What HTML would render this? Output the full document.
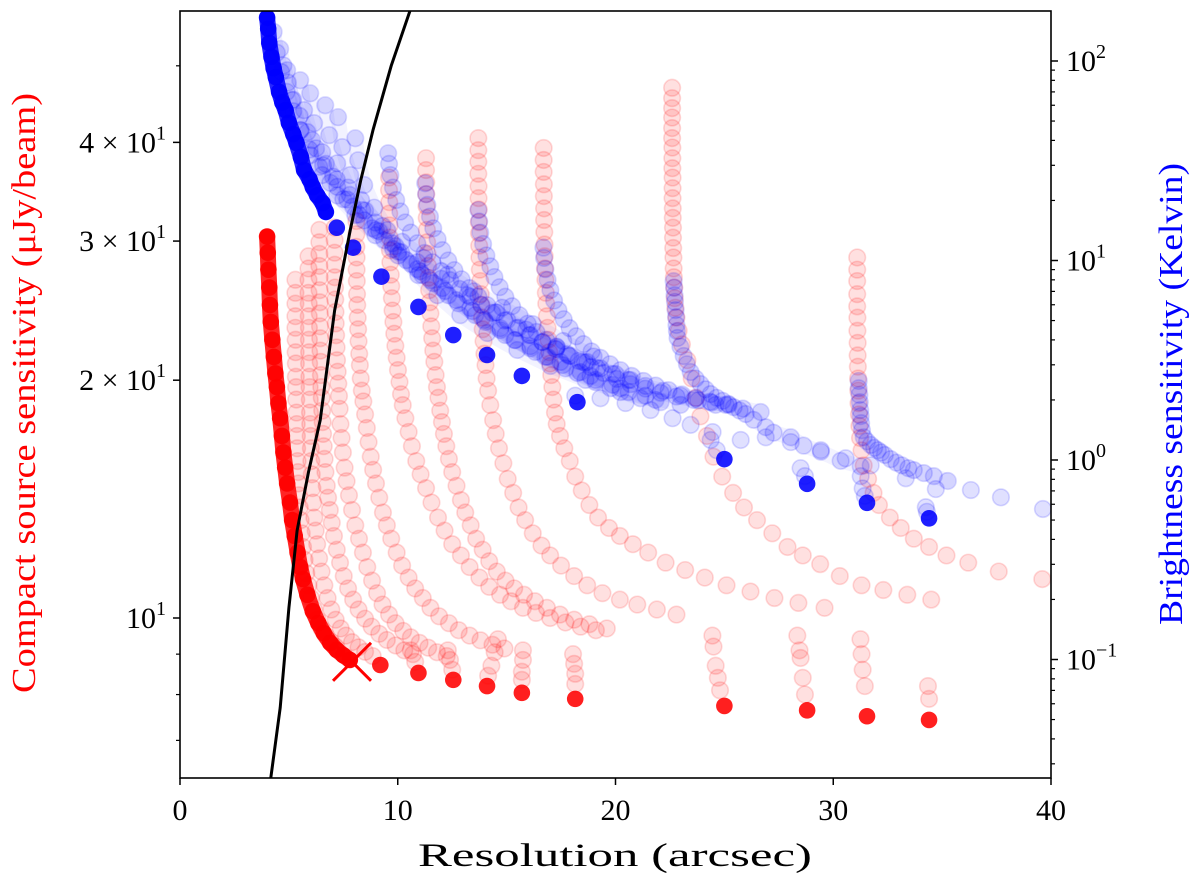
<!DOCTYPE html>
<html><head><meta charset="utf-8"><style>
html,body{margin:0;padding:0;background:#fff;}
svg{display:block;font-family:"Liberation Serif","DejaVu Serif",serif;}
</style></head><body>
<svg id="chart" width="1200" height="881" viewBox="0 0 1200 881" xmlns="http://www.w3.org/2000/svg">
<defs><clipPath id="plotclip"><rect x="180" y="11" width="871" height="767"/></clipPath></defs>
<g id="marks" clip-path="url(#plotclip)"></g>
<g id="axes"></g>
</svg>
<script>
// ---- data ----
const xTicks = [0, 10, 20, 30, 40];
const leftMajor = [10, 20, 30, 40];
const leftMajorLabels = [["10", "1"], ["2 × 10", "1"], ["3 × 10", "1"], ["4 × 10", "1"]];
const leftMinor = [7, 8, 9, 50];
const rightMajor = [0.1, 1, 10, 100];
const rightMajorLabels = [["10", "−1"], ["10", "0"], ["10", "1"], ["10", "2"]];

const redCurve4 = [[5.3,26.8],[5.3,25.8],[5.3,25.0],[5.3,24.1],[5.3,23.3],[5.31,22.5],[5.31,21.7],[5.32,21.0],[5.32,20.2],[5.33,19.6],[5.34,18.9],[5.35,18.2],[5.36,17.6],[5.37,17.0],[5.38,16.4],[5.4,15.8],[5.42,15.3],[5.44,14.8],[5.46,14.3],[5.5,13.8],[5.54,13.3],[5.59,12.8],[5.65,12.3],[5.72,11.85],[5.8,11.4],[5.9,11.0],[6.02,10.6],[6.16,10.25],[6.32,9.95],[6.5,9.7],[6.7,9.5],[6.92,9.33],[7.15,9.2]];
const redCurve5 = [[5.9,28.7],[5.9,27.7],[5.9,26.8],[5.9,25.8],[5.91,25.0],[5.91,24.1],[5.92,23.3],[5.92,22.5],[5.93,21.7],[5.93,21.0],[5.94,20.2],[5.95,19.6],[5.96,18.9],[5.97,18.2],[5.98,17.6],[6.0,17.0],[6.01,16.4],[6.03,15.8],[6.05,15.2],[6.08,14.6],[6.12,14.0],[6.17,13.4],[6.23,12.9],[6.3,12.4],[6.39,11.9],[6.5,11.45],[6.63,11.0],[6.78,10.6],[6.95,10.25],[7.15,9.95],[7.38,9.7],[7.62,9.5],[7.9,9.32],[8.2,9.18],[8.5,9.06],[8.85,8.95]];
const redCurve6 = [[6.4,31.0],[6.4,29.9],[6.4,28.9],[6.4,27.9],[6.41,27.0],[6.41,26.0],[6.42,25.1],[6.42,24.3],[6.43,23.4],[6.44,22.6],[6.45,21.8],[6.46,21.1],[6.47,20.3],[6.49,19.6],[6.51,19.0],[6.53,18.3],[6.55,17.7],[6.57,17.1],[6.6,16.5],[6.64,15.9],[6.68,15.3],[6.74,14.7],[6.8,14.2],[6.88,13.7],[6.97,13.2],[7.07,12.7],[7.2,12.2],[7.35,11.75],[7.52,11.3],[7.72,10.9],[7.95,10.55],[8.2,10.25],[8.5,9.98],[8.8,9.75],[9.15,9.55],[9.5,9.38],[9.9,9.23],[10.3,9.1],[10.7,9.0]];
const redCurve7 = [[7.1,31.2],[7.1,30.1],[7.1,29.0],[7.11,28.0],[7.11,27.0],[7.12,26.2],[7.13,25.3],[7.14,24.4],[7.15,23.6],[7.17,22.8],[7.19,22.0],[7.21,21.2],[7.24,20.5],[7.27,19.8],[7.3,19.1],[7.33,18.4],[7.37,17.6],[7.42,16.9],[7.48,16.2],[7.56,15.5],[7.65,14.9],[7.76,14.3],[7.9,13.7],[8.05,13.1],[8.22,12.6],[8.4,12.1],[8.6,11.6],[8.82,11.15],[9.05,10.75],[9.3,10.4],[9.6,10.1],[9.9,9.85],[10.25,9.63],[10.6,9.45],[11.0,9.3],[11.4,9.17],[11.8,9.05],[12.25,8.95]];
const redCurve8 = [[8.1,31.8],[8.1,30.6],[8.1,29.5],[8.11,28.6],[8.11,27.6],[8.12,26.7],[8.13,25.7],[8.14,24.9],[8.16,24.0],[8.18,23.2],[8.2,22.4],[8.23,21.6],[8.26,20.9],[8.3,20.1],[8.35,19.4],[8.42,18.8],[8.5,18.1],[8.58,17.4],[8.66,16.7],[8.76,16.0],[8.87,15.4],[9.0,14.8],[9.15,14.2],[9.32,13.6],[9.5,13.1],[9.7,12.6],[9.95,12.1],[10.2,11.65],[10.5,11.25],[10.8,10.9],[11.15,10.6],[11.5,10.3],[11.9,10.05],[12.35,9.85],[12.8,9.65],[13.3,9.5],[13.8,9.37],[14.35,9.25],[14.9,9.15]];
const redCurve9 = [[9.6,36.1],[9.6,34.8],[9.61,33.6],[9.61,32.5],[9.62,31.4],[9.63,30.3],[9.64,29.2],[9.66,28.2],[9.68,27.2],[9.7,26.3],[9.73,25.4],[9.76,24.5],[9.8,23.7],[9.84,22.9],[9.89,22.1],[9.95,21.35],[10.01,20.6],[10.08,19.9],[10.15,19.2],[10.23,18.6],[10.35,17.9],[10.5,17.2],[10.65,16.5],[10.85,15.8],[11.05,15.2],[11.3,14.6],[11.55,14.0],[11.85,13.4],[12.15,12.9],[12.5,12.4],[12.9,12.0],[13.3,11.6],[13.75,11.25],[14.2,10.95],[14.7,10.7],[15.2,10.5],[15.75,10.3],[16.35,10.15],[17.0,10.0],[17.7,9.87],[18.4,9.75],[19.1,9.65]];
const redCurve11 = [[11.3,38.2],[11.3,36.9],[11.31,35.6],[11.31,34.4],[11.32,33.2],[11.33,32.1],[11.34,31.0],[11.35,29.9],[11.37,28.9],[11.39,27.9],[11.41,26.95],[11.44,26.0],[11.47,25.1],[11.5,24.3],[11.54,23.4],[11.58,22.6],[11.63,21.8],[11.68,21.1],[11.74,20.3],[11.8,19.6],[11.87,19.0],[11.95,18.3],[12.03,17.7],[12.12,17.1],[12.23,16.5],[12.35,15.9],[12.5,15.3],[12.7,14.7],[12.9,14.1],[13.1,13.6],[13.35,13.1],[13.6,12.6],[13.9,12.2],[14.2,11.8],[14.55,11.45],[14.95,11.15],[15.35,10.9],[15.8,10.7],[16.3,10.5],[16.85,10.3],[17.45,10.1],[18.1,9.95],[18.8,9.82],[19.6,9.7]];
const redCurve13 = [[13.7,40.5],[13.7,39.1],[13.7,37.8],[13.7,36.5],[13.71,35.2],[13.71,34.0],[13.72,32.9],[13.72,31.7],[13.73,30.7],[13.74,29.6],[13.75,28.6],[13.77,27.6],[13.79,26.7],[13.81,25.7],[13.84,24.9],[13.87,24.0],[13.9,23.2],[13.94,22.4],[13.98,21.6],[14.03,20.9],[14.08,20.1],[14.15,19.4],[14.25,18.6],[14.38,17.8],[14.5,17.1],[14.65,16.4],[14.85,15.7],[15.05,15.0],[15.3,14.4],[15.55,13.8],[15.85,13.3],[16.2,12.8],[16.6,12.35],[17.0,12.0],[17.5,11.65],[18.1,11.3],[18.7,11.0],[19.4,10.75],[20.2,10.55],[21.0,10.4],[21.9,10.25],[22.8,10.1]];
const redCurve16 = [[16.7,39.35],[16.7,38.0],[16.7,36.7],[16.71,35.4],[16.71,34.2],[16.72,33.0],[16.72,31.9],[16.73,30.8],[16.74,29.7],[16.75,28.7],[16.76,27.7],[16.78,26.8],[16.8,25.8],[16.82,25.0],[16.85,24.1],[16.88,23.3],[16.92,22.5],[16.96,21.7],[17.0,21.0],[17.05,20.3],[17.1,19.6],[17.15,18.9],[17.22,18.2],[17.3,17.6],[17.45,17.0],[17.65,16.4],[17.9,15.8],[18.15,15.1],[18.45,14.5],[18.8,13.9],[19.2,13.4],[19.7,13.0],[20.2,12.7],[20.8,12.4],[21.5,12.1],[22.3,11.75],[23.2,11.5],[24.1,11.25],[25.1,11.0],[26.2,10.8],[27.3,10.6],[28.4,10.45],[29.6,10.3]];
const redCurve22 = [[22.6,46.9],[22.6,45.5],[22.6,44.2],[22.6,43.0],[22.6,41.7],[22.6,40.5],[22.61,39.4],[22.61,38.2],[22.61,37.1],[22.62,36.1],[22.62,35.0],[22.62,34.0],[22.63,33.0],[22.63,32.1],[22.64,31.2],[22.64,30.3],[22.65,29.4],[22.66,28.6],[22.67,27.7],[22.68,27.0],[22.7,26.2],[22.72,25.4],[22.75,24.7],[22.8,24.0],[22.9,23.1],[23.05,22.2],[23.3,21.2],[23.5,20.1],[23.7,19.0],[23.9,18.0],[24.2,17.0],[24.5,16.0],[24.9,15.1],[25.4,14.4],[25.9,13.8],[26.5,13.3],[27.2,12.8],[27.9,12.3],[28.6,12.0],[29.4,11.7],[30.3,11.3],[31.3,11.0],[32.3,10.85],[33.4,10.7],[34.5,10.55]];
const redCurve31 = [[31.1,28.6],[31.1,27.6],[31.1,26.7],[31.1,25.7],[31.1,24.8],[31.11,24.0],[31.11,23.1],[31.12,22.3],[31.12,21.5],[31.13,20.8],[31.14,20.1],[31.15,19.4],[31.16,18.7],[31.18,18.1],[31.2,17.5],[31.23,16.9],[31.3,16.3],[31.4,15.6],[31.6,15.0],[31.85,14.4],[32.1,13.9],[32.6,13.4],[33.1,13.0],[33.7,12.6],[34.4,12.3],[35.2,12.0],[36.2,11.75],[37.6,11.45],[39.6,11.2]];
const redBranches = [[10.6,9.1],[10.8,8.8],[12.3,9.1],[12.4,8.85],[12.5,8.6],[14.6,9.4],[14.45,9.05],[14.3,8.7],[14.15,8.45],[15.75,9.1],[15.75,8.85],[15.7,8.55],[15.7,8.35],[18.05,9.0],[18.1,8.75],[18.15,8.5],[18.15,8.25],[24.45,9.5],[24.5,9.2],[24.6,8.7],[24.7,8.4],[24.8,8.1],[28.35,9.5],[28.45,9.1],[28.5,8.9],[28.6,8.4],[28.7,8.0],[31.25,9.4],[31.3,9.0],[31.35,8.6],[31.45,8.2],[34.35,8.2],[34.4,7.9]];
const redDense = [[4.0,30.4],[4.03,29],[4.06,27.6],[4.1,26.2],[4.13,24.9],[4.17,23.7],[4.24,22.5],[4.31,21.4],[4.38,20.4],[4.45,19.6],[4.52,18.7],[4.6,17.9],[4.68,17.0],[4.75,16.2],[4.83,15.5],[4.92,14.8],[5.05,14.0],[5.15,13.3],[5.27,12.7],[5.4,12.1],[5.52,11.6],[5.65,11.2],[5.85,10.7],[6.1,10.2],[6.35,9.85],[6.6,9.57],[6.9,9.3],[7.2,9.11],[7.5,8.97],[7.8,8.85]];
const redSolidX = [9.2,10.95,12.55,14.1,15.7,18.15,25.0,28.8,31.55,34.4];
const redSolidV = [8.72,8.52,8.35,8.2,8.04,7.9,7.74,7.64,7.51,7.43];
const markerX = [7.9];
const markerV = [8.8];

const blueFan0a = [[4.3,140],[4.45,110],[4.65,88],[4.9,70],[5.2,56],[5.55,45],[5.95,36],[6.4,29.5],[6.9,24.5],[7.5,20.3],[8.2,17],[9.0,14.2],[9.9,11.8],[10.9,9.8],[12.0,8.1],[13.2,6.7],[14.5,5.5],[15.9,4.5],[17.3,3.7],[18.7,3.1]];
const blueFan0b = [[4.6,115],[4.75,95],[4.95,78],[5.2,64],[5.5,53],[5.85,44],[6.25,36.5],[6.7,30.5],[7.2,25.5],[7.8,21.3],[8.5,17.8],[9.3,14.9],[10.2,12.4],[11.2,10.3],[12.3,8.5],[13.5,7.0],[14.8,5.8],[16.2,4.8],[17.6,3.95],[19.0,3.3]];
const blueFan1 = [[4.92,89.9],[5.15,63.6],[5.52,45.0],[5.98,33.7],[6.53,26.8],[7.22,21.2],[8.05,16.9],[8.97,13.4],[10.02,10.6],[11.13,8.45],[12.32,6.7],[13.56,5.32],[14.94,4.23],[16.32,3.48],[17.7,2.88],[19.08,2.46]];
const blueFan2 = [[5.52,80.1],[5.7,56.7],[6.07,40.1],[6.57,30.0],[7.22,23.4],[7.95,18.6],[8.83,14.5],[9.79,11.4],[10.9,9.05],[12.05,7.27],[13.33,5.78],[14.71,4.58],[16.09,3.72],[17.47,3.1],[18.85,2.64],[20.23,2.29]];
const blueFan3 = [[5.98,68.9],[6.16,48.8],[6.53,34.9],[7.03,26.3],[7.68,20.2],[8.46,15.9],[9.38,12.65],[10.39,10.04],[11.49,7.97],[12.69,6.33],[13.98,5.03],[15.36,3.99],[16.78,3.29],[18.25,2.73],[19.77,2.29],[21.15,2.04]];
const blueFan4 = [[6.67,60.0],[6.85,42.5],[7.22,30.7],[7.72,23.2],[8.37,17.9],[9.15,14.0],[10.02,11.1],[11.03,8.84],[12.18,7.03],[13.43,5.58],[14.71,4.48],[16.09,3.63],[17.56,2.99],[19.08,2.52],[20.6,2.19],[22.07,1.95]];
const blueFan5 = [[7.26,52.3],[7.45,37.0],[7.82,26.8],[8.32,20.1],[8.97,15.5],[9.75,12.2],[10.62,9.6],[11.63,7.7],[12.78,6.1],[14.02,4.92],[15.4,3.99],[16.87,3.29],[18.39,2.76],[19.86,2.38],[21.38,2.1],[22.99,1.89]];
const blueFan6 = [[8.05,41.0],[8.18,31.8],[8.46,23.9],[8.92,18.4],[9.52,14.2],[10.16,11.0],[10.94,8.45],[11.82,6.7],[12.87,5.32],[14.11,4.33],[15.49,3.56],[17.01,2.96],[18.62,2.52],[20.23,2.19],[21.84,2.0]];
const blueCurve9 = [[9.56,34.5],[9.6,30.5],[9.66,26.8],[9.78,23.2],[9.93,20.1],[10.12,17.6],[10.34,15.5],[10.6,13.8],[10.9,12.2],[11.23,10.9],[11.59,9.8],[12.0,8.85],[12.41,7.97],[12.85,7.2],[13.33,6.58],[13.83,6.0],[14.34,5.46],[14.9,5.0],[15.45,4.58],[16.04,4.22],[16.64,3.9],[17.28,3.6],[17.93,3.32],[18.6,3.08],[19.31,2.88],[20.0,2.7],[20.69,2.52]];
const blueCurve11 = [[11.26,24.4],[11.3,21.5],[11.36,19.0],[11.48,16.6],[11.63,14.5],[11.83,12.8],[12.05,11.27],[12.32,10.0],[12.6,8.95],[12.93,8.05],[13.29,7.27],[13.7,6.6],[14.11,5.97],[14.55,5.48],[15.03,5.03],[15.55,4.6],[16.09,4.23],[16.65,3.9],[17.24,3.6],[17.86,3.33],[18.48,3.1],[19.16,2.89],[19.86,2.7],[20.6,2.52],[21.38,2.35],[22.18,2.22],[22.99,2.1],[23.8,1.99],[24.6,1.89]];
const blueCurve13 = [[13.7,17.9],[13.74,15.7],[13.79,13.8],[13.92,12.1],[14.07,10.6],[14.25,9.35],[14.44,8.26],[14.68,7.35],[14.94,6.58],[15.25,5.9],[15.59,5.32],[15.97,4.82],[16.37,4.38],[16.82,4.0],[17.29,3.68],[17.78,3.39],[18.3,3.14],[18.86,2.92],[19.45,2.73],[20.06,2.55],[20.69,2.4],[21.37,2.28],[22.07,2.17],[22.8,2.08],[23.59,2.0],[24.4,1.94],[25.2,1.89]];
const blueCurve16 = [[16.69,11.6],[16.72,10.3],[16.78,9.05],[16.88,8.0],[17.01,7.11],[17.18,6.3],[17.38,5.64],[17.62,5.08],[17.89,4.58],[18.2,4.17],[18.53,3.81],[18.9,3.5],[19.31,3.25],[19.75,3.02],[20.23,2.82],[20.75,2.64],[21.29,2.49],[21.85,2.36],[22.44,2.24],[23.05,2.13],[23.68,2.04],[24.35,1.96],[25.06,1.89],[25.85,1.81],[26.67,1.74]];
const blueTail = [[19.31,2.04],[20.46,1.93],[21.61,1.78],[22.62,1.62],[23.45,1.5],[24.46,1.38],[25.75,1.26],[26.9,1.3],[28.05,1.23],[29.43,1.12],[30.57,1.02],[31.72,0.94],[33.33,0.81],[34.71,0.715],[36.32,0.707],[37.7,0.65],[39.63,0.568]];
const blueCurve22 = [[22.67,7.88],[22.69,7.3],[22.71,6.7],[22.73,6.2],[22.76,5.64],[22.78,5.2],[22.8,4.75],[22.82,4.43],[22.85,4.09],[22.98,3.7],[23.13,3.32],[23.28,3.02],[23.45,2.76],[23.68,2.56],[23.91,2.4],[24.14,2.26],[24.37,2.14],[24.65,2.05],[24.92,1.98],[25.18,1.91],[25.43,1.84],[25.7,1.77],[25.98,1.7],[26.34,1.59],[26.9,1.46],[27.26,1.37],[28.05,1.3],[28.64,1.18],[29.43,1.1],[30.34,0.99],[31.26,0.93]];
const blueCurve31 = [[31.17,2.49],[31.17,2.29],[31.2,2.12],[31.22,1.95],[31.24,1.78],[31.26,1.66],[31.28,1.53],[31.32,1.41],[31.4,1.3],[31.55,1.24],[31.72,1.19],[31.88,1.15],[32.05,1.12],[32.2,1.09],[32.37,1.06],[32.64,1.01],[32.9,0.97],[33.15,0.94],[33.45,0.91],[33.7,0.89],[34.16,0.86],[34.62,0.83],[35.26,0.785]];
const blueBranches = [[24.37,1.26],[24.65,1.12],[28.5,0.91],[28.7,0.83],[31.26,0.83],[31.35,0.72],[31.45,0.66],[34.25,0.58],[34.3,0.55],[18.15,2.1]];
const blueDense = [[4.0,165],[4.05,145],[4.1,123],[4.2,105],[4.3,92],[4.4,83],[4.55,70],[4.7,62],[4.85,56.7],[5.0,49],[5.2,43],[5.35,38.8],[5.55,33],[5.7,28.4],[5.95,25.5],[6.1,23.3],[6.3,21.2],[6.55,19.4],[6.7,17.5]];
const blueSolidX = [7.2,7.95,9.25,10.95,12.55,14.1,15.7,18.25,25.0,28.8,31.55,34.4];
const blueSolidV = [14.6,11.6,8.3,5.85,4.23,3.36,2.64,1.95,1.01,0.76,0.61,0.51];

const limitX = [4.14,4.6,5.0,5.38,5.9,6.44,7.1,7.82,8.3,8.87,9.7,10.57];
const limitV = [6.18,7.7,10.3,12.9,15.3,17.8,24.5,31.0,35.8,41.5,50.0,58.8];

// ---- scales ----
const PL = 180, PR = 1051, PT = 11, PB = 778;
function X(x) { return PL + x * (PR - PL) / 40; }
function YL(v) { return 618 - 790 * Math.log10(v / 10); }
function YR(v) { return 460 - 199.5 * Math.log10(v); }

const NS = "http://www.w3.org/2000/svg";
const marks = document.getElementById("marks");
const axes = document.getElementById("axes");
function mk(tag, attrs, parent) {
  const e = document.createElementNS(NS, tag);
  for (const k in attrs) e.setAttribute(k, attrs[k]);
  parent.appendChild(e);
  return e;
}

function drawFaint(pts, yfn, color, name, connect) {
  const g = mk("g", {}, marks);
  
  
  if (connect) {
    const d = pts.map((p, i) => (i ? "L" : "M") + X(p[0]).toFixed(1) + "," + yfn(p[1]).toFixed(1)).join("");
    mk("path", {d: d, fill: "none", stroke: color, "stroke-width": 15, "stroke-linecap": "round", "stroke-linejoin": "round", "stroke-opacity": 0.05}, g);
  }
  pts.forEach(p => {
    const c = mk("circle", {cx: X(p[0]), cy: yfn(p[1]), r: 8.3, fill: color, "fill-opacity": 0.12, stroke: color, "stroke-opacity": 0.15, "stroke-width": 1.6}, g);
    
    
  });
}

const redFaint = [redCurve4, redCurve5, redCurve6, redCurve7, redCurve8, redCurve9, redCurve11, redCurve13, redCurve16, redCurve22, redCurve31];
redFaint.forEach((c, i) => drawFaint(c, YL, "#ff0000", "red-config-curve-" + i, false));
drawFaint(redBranches, YL, "#ff0000", "red-config-branches", false);
const blueFaint = [blueFan0a, blueFan0b, blueFan1, blueFan2, blueFan3, blueFan4, blueFan5, blueFan6, blueCurve9, blueCurve11, blueCurve13, blueCurve16, blueCurve22, blueCurve31];
blueFaint.forEach((c, i) => drawFaint(c, YR, "#0000ff", "blue-config-curve-" + i, true));
drawFaint(blueTail, YR, "#0000ff", "blue-config-tail", false);
drawFaint(blueBranches, YR, "#0000ff", "blue-config-branches", false);

function drawDense(pts, yfn, color, name) {
  const g = mk("g", {}, marks);
  
  
  const d = pts.map((p, i) => (i ? "L" : "M") + X(p[0]).toFixed(1) + "," + yfn(p[1]).toFixed(1)).join("");
  mk("path", {d: d, fill: "none", stroke: color, "stroke-width": 16, "stroke-linecap": "round", "stroke-linejoin": "round", "stroke-opacity": 0.85}, g);
  pts.forEach(p => {
    const c = mk("circle", {cx: X(p[0]), cy: yfn(p[1]), r: 8.3, fill: color, "fill-opacity": 0.9}, g);
    
    
  });
}
drawDense(redDense, YL, "#ff0000", "red-optimal-curve");
drawDense(blueDense, YR, "#0000ff", "blue-optimal-curve");

function drawSolid(xs, vs, yfn, color, name) {
  const g = mk("g", {}, marks);
  
  
  xs.forEach((x, i) => {
    const c = mk("circle", {cx: X(x), cy: yfn(vs[i]), r: 8.3, fill: color, "fill-opacity": 0.88}, g);
    
    
  });
}
drawSolid(redSolidX, redSolidV, YL, "#ff0000", "red-best-points");
drawSolid(blueSolidX, blueSolidV, YR, "#0000ff", "blue-best-points");

const ld = limitX.map((x, i) => (i ? "L" : "M") + X(x).toFixed(1) + "," + YL(limitV[i]).toFixed(1)).join("");
const lline = mk("path", {d: ld, fill: "none", stroke: "#000", "stroke-width": 3}, marks);



markerX.forEach((x, i) => {
  const cx = X(x), cy = YL(markerV[i]), s = 19;
  const m = mk("path", {d: `M${cx-s},${cy-s}L${cx+s},${cy+s}M${cx-s},${cy+s}L${cx+s},${cy-s}`, stroke: "#ff0000", "stroke-width": 3}, marks);
  
  
});

// ---- axes ----
const frame = mk("rect", {x: PL, y: PT, width: PR - PL, height: PB - PT, fill: "none", stroke: "#000", "stroke-width": 1.6}, axes);



xTicks.forEach(t => {
  const x = X(t);
  const tk = mk("line", {x1: x, x2: x, y1: PB, y2: PB + 7, stroke: "#000", "stroke-width": 1.5}, axes);
  
  
  const tl = mk("text", {x: x, y: 820, "text-anchor": "middle", "font-size": 30, fill: "#000"}, axes);
  tl.textContent = String(t);
  
  
});

leftMajor.forEach((v, i) => {
  const y = YL(v);
  const tk = mk("line", {x1: PL - 7, x2: PL, y1: y, y2: y, stroke: "#000", "stroke-width": 1.5}, axes);
  
  
  const tl = mk("text", {x: 166, y: y + 10, "text-anchor": "end", "font-size": 30, fill: "#000"}, axes);
  
  
  const a = mk("tspan", {}, tl); a.textContent = leftMajorLabels[i][0];
  const b = mk("tspan", {dy: -13, "font-size": 20}, tl); b.textContent = leftMajorLabels[i][1];
});
leftMinor.forEach(v => {
  const y = YL(v);
  if (y < PT || y > PB) return;
  const tk = mk("line", {x1: PL - 4, x2: PL, y1: y, y2: y, stroke: "#000", "stroke-width": 1.2}, axes);
  
  
});

rightMajor.forEach((v, i) => {
  const y = YR(v);
  const tk = mk("line", {x1: PR, x2: PR + 7, y1: y, y2: y, stroke: "#000", "stroke-width": 1.5}, axes);
  
  
  const tl = mk("text", {x: 1066, y: y + 10, "text-anchor": "start", "font-size": 30, fill: "#000"}, axes);
  
  
  const a = mk("tspan", {}, tl); a.textContent = rightMajorLabels[i][0];
  const b = mk("tspan", {dy: -13, "font-size": 20}, tl); b.textContent = rightMajorLabels[i][1];
});
[0.01, 0.1, 1, 10, 100].forEach(dec => {
  for (let k = 2; k <= 9; k++) {
    const y = YR(dec * k);
    if (y < PT || y > PB) continue;
    const tk = mk("line", {x1: PR, x2: PR + 4, y1: y, y2: y, stroke: "#000", "stroke-width": 1.2}, axes);
    
    
  }
});

const xt = mk("text", {x: 615, y: 866, "text-anchor": "middle", "font-size": 33, fill: "#000", textLength: 394, lengthAdjust: "spacingAndGlyphs"}, axes);
xt.textContent = "Resolution (arcsec)";



const lt = mk("text", {x: 0, y: 0, "text-anchor": "middle", "font-size": 34, fill: "#ff0000", textLength: 600, lengthAdjust: "spacingAndGlyphs", transform: "translate(35,393) rotate(-90)"}, axes);
lt.textContent = "Compact source sensitivity (μJy/beam)";



const rt = mk("text", {x: 0, y: 0, "text-anchor": "middle", "font-size": 34, fill: "#0000ff", textLength: 462, lengthAdjust: "spacingAndGlyphs", transform: "translate(1182,394) rotate(-90)"}, axes);
rt.textContent = "Brightness sensitivity (Kelvin)";


</script>
</body></html>
